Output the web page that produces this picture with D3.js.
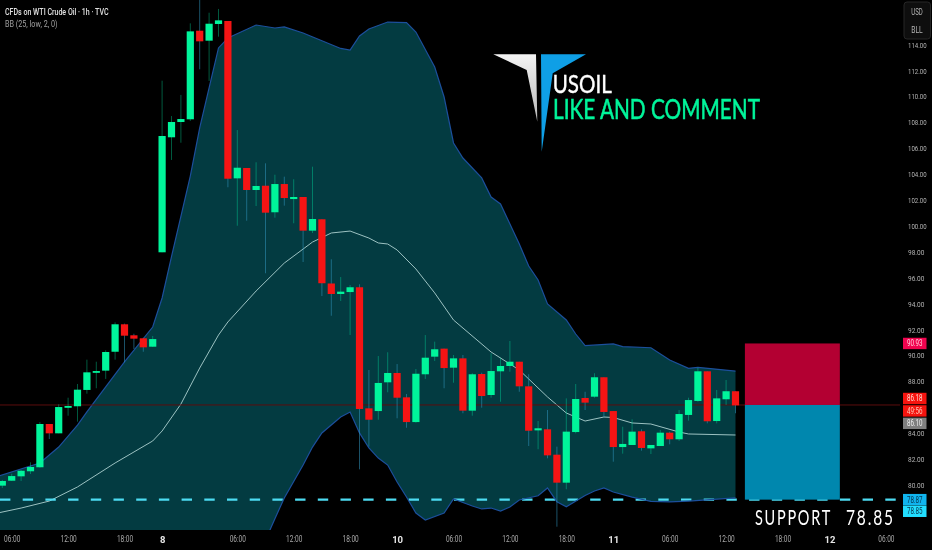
<!DOCTYPE html>
<html>
<head>
<meta charset="utf-8">
<script src="https://cdn.jsdelivr.net/npm/d3@7"></script>
<style>
  html, body { margin: 0; padding: 0; background: #000; overflow: hidden; }
  svg { display: block; filter: blur(0.35px); }
</style>
</head>
<body>
<svg id="chart" width="932" height="550"></svg>
<script>
// hourly candles
const opens = [79.95,80.33,80.67,81.06,81.37,84.71,83.99,86.02,86.08,87.34,88.73,88.83,90.29,92.41,91.56,91.33,90.68,97.97,106.85,108.03,108.24,115.08,114.31,115.60,115.83,103.68,104.48,102.78,103.11,101.06,103.24,102.08,102.24,99.64,100.52,95.56,94.75,94.90,95.27,85.92,85.71,87.93,88.65,86.77,84.86,88.55,89.91,90.53,89.06,89.78,85.74,88.57,86.95,88.78,89.19,89.52,87.62,84.22,84.30,82.34,80.18,84.09,86.72,86.82,88.32,85.71,82.93,83.09,84.15,82.83,83.01,84.04,83.53,85.41,86.49,88.78,84.94,86.62,87.24];
const highs = [80.39,80.87,81.16,81.75,84.86,84.71,86.23,86.74,87.80,89.68,89.52,90.40,92.56,92.46,91.68,91.37,91.51,111.22,108.49,110.12,115.65,117.61,116.47,116.76,115.83,107.41,104.48,104.92,104.84,103.96,103.81,103.61,102.24,104.58,100.52,97.43,96.06,95.44,95.50,88.88,89.96,90.25,89.34,87.03,88.96,91.58,91.07,90.53,90.04,90.04,88.63,88.67,90.17,89.83,91.12,89.52,88.55,84.94,85.79,82.96,86.69,87.80,87.20,88.63,88.32,85.71,84.50,85.07,84.30,83.09,84.25,84.12,85.79,86.74,89.06,88.78,87.34,88.11,87.24];
const lows = [79.77,80.33,80.31,80.85,81.34,83.55,83.99,85.35,84.89,87.05,87.47,88.19,89.68,89.47,90.50,90.29,90.66,97.97,105.10,106.43,108.11,112.10,111.20,114.62,102.99,100.02,100.41,101.54,96.35,100.64,101.57,100.21,97.22,99.46,94.59,93.07,94.21,91.58,81.21,82.96,85.04,87.16,85.15,84.42,84.81,88.19,89.58,87.47,87.90,85.54,85.35,85.97,86.74,86.43,88.75,87.20,83.01,82.76,82.06,76.78,79.67,83.99,85.79,86.74,85.27,81.80,82.42,83.09,82.65,82.39,83.01,83.14,83.40,84.97,86.43,84.76,84.76,86.18,85.54];
const closes = [80.31,80.69,81.10,81.39,84.71,83.99,86.02,86.10,87.36,88.70,88.80,90.27,92.41,91.53,91.30,90.63,91.27,106.95,108.03,108.26,115.03,114.26,115.62,115.88,103.65,104.50,102.78,103.09,101.03,103.24,102.16,102.24,99.64,100.54,95.58,94.75,94.93,95.27,85.87,85.04,87.88,88.65,86.74,84.86,88.59,89.83,90.48,89.03,89.78,85.74,88.55,86.87,88.80,89.19,89.52,87.62,84.19,84.38,82.29,80.18,84.12,86.64,86.36,88.32,85.64,82.93,83.17,84.12,82.86,83.09,84.04,83.53,85.48,86.56,88.78,84.92,86.69,87.24,86.15];

// Bollinger band, read at its corners
const upperIdx = [-1,4,6,8,9,11,13,16,17,18,20,21,22,23,24,27,29,30,32,36,37,38,39,41,43,44,46,47,48,49,51,52,53,55,56,57,58,60,61,62,65,66,69,71,73,74,78];
const upperVals = [80.54,81.70,82.93,84.63,85.64,87.57,89.50,92.20,94.44,97.64,103.86,107.57,110.66,113.75,114.52,115.52,115.29,115.37,114.90,113.71,113.59,114.67,115.21,115.75,115.70,114.98,112.28,109.96,106.41,105.25,103.71,102.24,101.70,98.61,96.91,95.83,93.98,92.74,91.66,90.76,90.89,90.68,90.60,89.65,89.01,89.09,88.80];
const lowerIdx = [28,29,30,32,33,34,36,37,38,39,40,41,42,43,44,45,47,48,50,51,52,53,54,55,57,58,59,60,62,63,64,65,67,69,71,73,78];
const lowerVals = [75.75,77.40,79.00,81.54,82.93,84.02,85.25,85.64,84.02,82.86,82.08,81.54,80.23,79.07,77.84,77.30,77.84,78.92,78.38,78.15,78.22,77.99,78.30,78.84,79.17,79.77,78.71,78.32,79.19,79.54,79.77,79.46,79.07,78.73,78.69,78.76,79.00];
const basisIdx = [-1,2,5,8,12,16,17,19,21,23,24,27,30,33,35,37,39,40,41,42,44,46,48,52,55,58,60,62,64,65,67,69,72,73,78];
const basisVals = [77.76,78.22,78.76,79.85,81.70,83.40,84.17,86.25,89.03,91.58,92.59,94.98,97.14,98.76,99.46,99.61,99.07,98.69,98.61,98.15,96.68,94.83,92.74,90.27,88.88,86.80,85.56,84.94,85.25,85.21,84.79,84.71,84.09,83.94,83.86];

const priceTicks = [80,82,84,88,90,92,94,96,98,100,102,104,106,108,110,112,114];
const timeIdx = [1,7,13,17,25,31,37,42,48,54,60,65,71,77,83,88,94];
const timeLabels = ['06:00','12:00','18:00','8','06:00','12:00','18:00','10','06:00','12:00','18:00','11','06:00','12:00','18:00','12','06:00'];
const dayLabels = ['8','10','11','12'];

const lastPrice = 86.18, stopPrice = 90.93, supportPrice = 78.87;
const positionIdx = [79, 89.1];
const tagRows = [
  {text: '90.93', value: 90.93, fill: '#f0044f', color: '#ffd0dc'},
  {text: '86.18', value: 86.68, fill: '#f5140f', color: '#ffd8d0'},
  {text: '49:56', value: 85.72, fill: '#f5140f', color: '#ffc8b8'},
  {text: '86.10', value: 84.76, fill: '#7f7f7f', color: '#eeeeee'},
  {text: '78.87', value: 78.87, fill: '#10b4ee', color: '#06324a'},
  {text: '78.85', value: 77.97, fill: '#22deff', color: '#06324a'}
];

const font = 'Roboto, "Liberation Sans", sans-serif';
const svg = d3.select('#chart');
const width = 932, height = 550, plotW = 900, plotH = 530;

const x = d3.scaleLinear().domain([0, 100]).range([2.3, 942.3]);
const y = d3.scaleLinear().domain([80, 114]).range([485, 44.7]);

svg.append('rect').attr('width', width).attr('height', height).attr('fill', '#000');
svg.append('clipPath').attr('id', 'plot').append('rect')
  .attr('width', plotW).attr('height', plotH);

const g = svg.append('g').attr('clip-path', 'url(#plot)');

// band
const pts = (idx, vals) => idx.map((d, i) => [x(d), y(vals[i])]);
const upperPts = pts(upperIdx, upperVals);
const lowerPts = pts(lowerIdx, lowerVals);
const line = d3.line();

// the lower line starts off screen, so the area runs along the bottom until it does
const bandPts = upperPts.concat(lowerPts.slice().reverse(), [[x(-1), y(70)]]);
g.append('path').attr('d', line(bandPts) + 'Z').attr('fill', '#033b41');

g.append('path').attr('d', line(upperPts))
  .attr('fill', 'none').attr('stroke', '#1c4f9c').attr('stroke-width', 1.2);
g.append('path').attr('d', line(pts(basisIdx, basisVals)))
  .attr('fill', 'none').attr('stroke', '#9cc2c2').attr('stroke-width', 1);

// last price and support lines
g.append('line').attr('x1', 0).attr('x2', plotW)
  .attr('y1', y(lastPrice)).attr('y2', y(lastPrice))
  .attr('stroke', '#5c0d0d').attr('stroke-width', 1);

g.append('line').attr('x1', 0).attr('x2', 897)
  .attr('y1', y(supportPrice)).attr('y2', y(supportPrice))
  .attr('stroke', '#4ddcf2').attr('stroke-width', 2.4)
  .attr('stroke-dasharray', '10.4 12.3');

g.append('path').attr('d', line(lowerPts))
  .attr('fill', 'none').attr('stroke', '#1c4f9c').attr('stroke-width', 1.2);

// candles
const candles = opens.map((o, i) => ({i, o, h: highs[i], l: lows[i], c: closes[i]}));
const isUp = d => d.c >= d.o;

g.selectAll('line.wick').data(candles).join('line')
  .attr('class', 'wick')
  .attr('x1', d => x(d.i)).attr('x2', d => x(d.i))
  .attr('y1', d => y(d.h)).attr('y2', d => y(d.l))
  .attr('stroke', d => isUp(d) ? 'rgba(0,235,165,0.38)' : 'rgba(50,150,190,0.55)')
  .attr('stroke-width', 1);

g.selectAll('rect.body').data(candles).join('rect')
  .attr('class', 'body')
  .attr('x', d => x(d.i) - 3.6)
  .attr('width', 7.2)
  .attr('y', d => y(Math.max(d.o, d.c)))
  .attr('height', d => Math.max(1.8, Math.abs(y(d.o) - y(d.c))))
  .attr('fill', d => isUp(d) ? '#00f59b' : '#f51414');

// position box
svg.append('rect')
  .attr('x', x(positionIdx[0])).attr('width', x(positionIdx[1]) - x(positionIdx[0]))
  .attr('y', y(stopPrice)).attr('height', y(lastPrice) - y(stopPrice))
  .attr('fill', '#b30032');
svg.append('rect')
  .attr('x', x(positionIdx[0])).attr('width', x(positionIdx[1]) - x(positionIdx[0]))
  .attr('y', y(lastPrice)).attr('height', y(supportPrice) - y(lastPrice))
  .attr('fill', '#0087ae');

// price axis
const yAxis = svg.append('g')
  .attr('transform', 'translate(901,0)')
  .call(d3.axisRight(y).tickValues(priceTicks).tickSize(0).tickPadding(7).tickFormat(d3.format('.2f')));
yAxis.select('.domain').remove();
yAxis.selectAll('text')
  .attr('font-family', font).attr('font-size', 7.6).attr('fill', '#b4b4b4')
  .attr('textLength', d => d >= 100 ? 18.6 : 16.4).attr('lengthAdjust', 'spacingAndGlyphs');

// time axis
const xAxis = svg.append('g')
  .attr('transform', 'translate(0,530)')
  .call(d3.axisBottom(x).tickValues(timeIdx).tickSize(0).tickPadding(6)
    .tickFormat((d, i) => timeLabels[i]));
xAxis.select('.domain').remove();
xAxis.selectAll('text')
  .attr('font-family', font)
  .attr('font-size', (d, i) => dayLabels.includes(timeLabels[i]) ? 9.5 : 8.5)
  .attr('font-weight', (d, i) => dayLabels.includes(timeLabels[i]) ? 700 : 400)
  .attr('fill', (d, i) => dayLabels.includes(timeLabels[i]) ? '#e6e6e6' : '#aaaaaa');
xAxis.selectAll('text')
  .filter((d, i) => !dayLabels.includes(timeLabels[i]))
  .attr('textLength', 16.2).attr('lengthAdjust', 'spacingAndGlyphs');

// price tags
const tagH = 11.4;
const tags = svg.selectAll('g.tag').data(tagRows).join('g')
  .attr('class', 'tag')
  .attr('transform', d => `translate(903,${y(d.value)})`);
tags.append('rect')
  .attr('y', -tagH / 2).attr('width', 23.5).attr('height', tagH)
  .attr('fill', d => d.fill);
tags.append('text')
  .attr('x', 11.7).attr('dy', '0.35em').attr('text-anchor', 'middle')
  .attr('font-family', font).attr('font-size', 8.5)
  .attr('textLength', 15.6).attr('lengthAdjust', 'spacingAndGlyphs')
  .attr('fill', d => d.color)
  .text(d => d.text);

// currency and unit box
svg.append('rect')
  .attr('x', 904).attr('y', 2).attr('width', 26.5).attr('height', 37).attr('rx', 3)
  .attr('fill', '#0e0e0e').attr('stroke', '#262626');
svg.selectAll('text.unit').data(['USD', 'BLL']).join('text')
  .attr('class', 'unit')
  .attr('x', 917).attr('y', (d, i) => 15 + i * 17.5)
  .attr('text-anchor', 'middle')
  .attr('font-family', font).attr('font-size', 8.5).attr('fill', '#b4b4b4')
  .attr('textLength', 11.5).attr('lengthAdjust', 'spacingAndGlyphs')
  .text(d => d);

// legend
svg.append('text').attr('x', 5).attr('y', 15)
  .attr('font-family', font).attr('font-size', 8.2).attr('font-weight', 500).attr('fill', '#e0e0e0')
  .attr('textLength', 103.5).attr('lengthAdjust', 'spacingAndGlyphs')
  .text('CFDs on WTI Crude Oil · 1h · TVC');
svg.append('text').attr('x', 5).attr('y', 27)
  .attr('font-family', font).attr('font-size', 8.2).attr('fill', '#a0a0a0')
  .attr('textLength', 52.5).attr('lengthAdjust', 'spacingAndGlyphs')
  .text('BB (25, low, 2, 0)');

// logo
const defs = svg.append('defs');
const grey = defs.append('linearGradient').attr('id', 'logoGrey')
  .attr('x1', 0).attr('y1', 0).attr('x2', 0).attr('y2', 1);
grey.append('stop').attr('offset', 0).attr('stop-color', '#f4f4f4');
grey.append('stop').attr('offset', 1).attr('stop-color', '#b8b8b8');

svg.append('polygon')
  .attr('points', '493.3,54.3 536,54.3 537.3,121.7 526.7,70')
  .attr('fill', 'url(#logoGrey)');
svg.append('polygon')
  .attr('points', '541,54.3 586,54.3 552.7,73.3 541.7,151.7')
  .attr('fill', '#0f9fe6');

svg.append('text').attr('x', 552.7).attr('y', 92.7)
  .attr('font-family', 'Lato, sans-serif').attr('font-size', 24.5).attr('fill', '#fff')
  .attr('stroke', '#fff').attr('stroke-width', 0.4)
  .attr('textLength', 59).attr('lengthAdjust', 'spacingAndGlyphs')
  .text('USOIL');
svg.append('text').attr('x', 553).attr('y', 119.3)
  .attr('font-family', 'Lato, sans-serif').attr('font-size', 26).attr('fill', '#00f59b')
  .attr('stroke', '#00f59b').attr('stroke-width', 0.5)
  .attr('textLength', 207).attr('lengthAdjust', 'spacingAndGlyphs')
  .text('LIKE AND COMMENT');

// the reference glyphs are tall and thin, so squeeze the spaced text to its width
const squeezed = (label, left, w) => {
  const t = svg.append('text')
    .attr('font-family', 'Lato, sans-serif').attr('font-size', 21).attr('fill', '#fff')
    .attr('letter-spacing', 2.5)
    .text(label);
  const natural = t.node().getComputedTextLength();
  t.attr('transform', `translate(${left},525) scale(${w / natural},1)`);
};
squeezed('SUPPORT', 755, 77);
squeezed('78.85', 846, 49);
</script>
</body>
</html>
